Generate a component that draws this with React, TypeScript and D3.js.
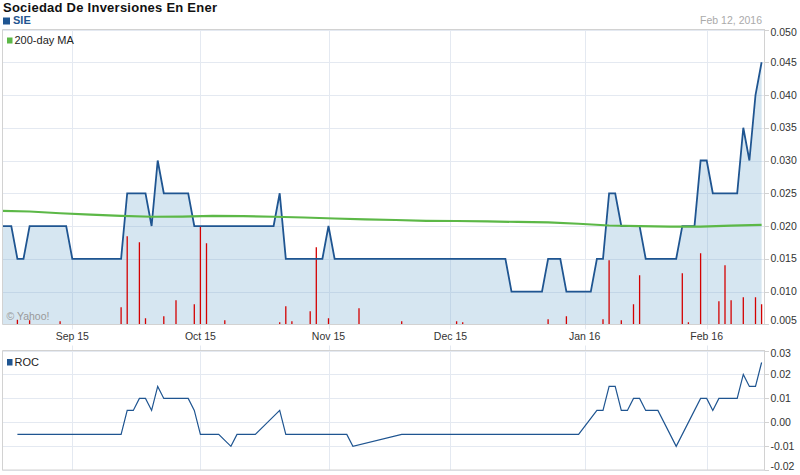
import React from "react";
import * as d3 from "d3";

// ---------- data ----------
const title = "Sociedad De Inversiones En Ener";
const ticker = "SIE";
const dateLabel = "Feb 12, 2016";

// daily closing prices (trading-day index 0..125)
const prices = [
  0.020, 0.020, 0.020, 0.015, 0.015,
  0.020, 0.020, 0.020, 0.020, 0.020,
  0.020, 0.020, 0.015, 0.015, 0.015,
  0.015, 0.015, 0.015, 0.015, 0.015,
  0.015, 0.025, 0.025, 0.025, 0.025,
  0.020, 0.030, 0.025, 0.025, 0.025,
  0.025, 0.025, 0.020, 0.020, 0.020,
  0.020, 0.020, 0.020, 0.020, 0.020,
  0.020, 0.020, 0.020, 0.020, 0.020,
  0.020, 0.025, 0.015, 0.015, 0.015,
  0.015, 0.015, 0.015, 0.015, 0.020,
  0.015, 0.015, 0.015, 0.015, 0.015,
  0.015, 0.015, 0.015, 0.015, 0.015,
  0.015, 0.015, 0.015, 0.015, 0.015,
  0.015, 0.015, 0.015, 0.015, 0.015,
  0.015, 0.015, 0.015, 0.015, 0.015,
  0.015, 0.015, 0.015, 0.015, 0.010,
  0.010, 0.010, 0.010, 0.010, 0.010,
  0.015, 0.015, 0.015, 0.010, 0.010,
  0.010, 0.010, 0.010, 0.015, 0.015,
  0.025, 0.025, 0.020, 0.020, 0.020,
  0.020, 0.015, 0.015, 0.015, 0.015,
  0.015, 0.015, 0.020, 0.020, 0.020,
  0.030, 0.030, 0.025, 0.025, 0.025,
  0.025, 0.025, 0.035, 0.030, 0.040,
  0.045,
];

// 200-day moving average: [day index, value]
const ma200: [number, number][] = [
  [0, 0.02234], [5, 0.02222], [10, 0.02195], [15, 0.02173], [20, 0.02155],
  [25, 0.02142], [30, 0.02145], [35, 0.02155], [40, 0.02152], [45, 0.02142],
  [50, 0.0213], [55, 0.02115], [60, 0.02103], [65, 0.02092], [70, 0.0208],
  [75, 0.02077], [80, 0.0207], [85, 0.02063], [90, 0.02055], [95, 0.02035],
  [100, 0.02008], [105, 0.01998], [110, 0.01992], [115, 0.01992], [120, 0.02005],
  [125, 0.02018],
];

// volume: [day index, shares]
const volume: [number, number][] = [
  [3, 23000], [5, 20000], [10, 15000], [20, 85000], [21, 440000], [23, 410000],
  [24, 30000], [27, 40000], [29, 120000], [32, 100000], [33, 490000], [34, 405000],
  [37, 20000], [46, 10000], [47, 90000], [48, 15000], [51, 65000], [52, 385000],
  [54, 30000], [59, 80000], [66, 15000], [75, 15000], [76, 10000], [90, 25000],
  [93, 40000], [99, 25000], [100, 320000], [102, 20000], [104, 100000], [105, 245000],
  [112, 255000], [113, 10000], [115, 355000], [118, 115000], [119, 295000], [120, 120000],
  [122, 135000], [124, 135000], [125, 100000],
];

// rate of change: [day index, value]
const roc: [number, number][] = [
  [3, -0.005], [20, -0.005], [21, 0.005], [22, 0.005], [23, 0.01], [24, 0.01],
  [25, 0.005], [26, 0.015], [27, 0.01], [31, 0.01], [32, 0.005], [33, -0.005],
  [36, -0.005], [38, -0.01], [39, -0.005], [42, -0.005], [44, 0.0], [46, 0.005],
  [47, -0.005], [57, -0.005], [58, -0.01], [66, -0.005], [95, -0.005], [98, 0.005],
  [99, 0.005], [100, 0.015], [101, 0.015], [102, 0.005], [103, 0.005], [104, 0.01],
  [105, 0.01], [106, 0.005], [108, 0.005], [111, -0.01], [115, 0.01], [116, 0.01],
  [117, 0.005], [118, 0.01], [121, 0.01], [122, 0.02], [123, 0.015], [124, 0.015],
  [125, 0.025],
];

const monthLabels = ["Sep 15", "Oct 15", "Nov 15", "Dec 15", "Jan 16", "Feb 16"];
const monthIndex = [12, 33, 54, 74, 96, 116];
const priceTicks = [0.005, 0.01, 0.015, 0.02, 0.025, 0.03, 0.035, 0.04, 0.045, 0.05];
const rocTicks = [-0.02, -0.01, 0.0, 0.01, 0.02, 0.03];

// ---------- layout ----------
const W = 800, H = 475;
const L = 2.5, R = 765;
const mTop = 29.5, mBot = 324.3;
const rTop = 350.5, rBot = 470.3;
const FONT = "'Liberation Sans', Arial, sans-serif";
const BLUE = "#1f5591";
const GRID = "#e4e9f1";
const BORDER = "#d2d2d2";

const px = (v: number) => Math.round(v) + 0.5;

export default function App() {
  const x = d3.scaleLinear().domain([0, 125]).range([-0.9, -0.9 + 6.1 * 125]);
  const y = d3.scaleLinear().domain([0.005, 0.05]).range([mBot, mTop]);
  const yr = d3.scaleLinear().domain([-0.02, 0.03]).range([rBot, rTop]);
  const yv = d3.scaleLinear().domain([0, 500000]).range([0, 100]);

  const area = d3.area<number>().x((_, i) => x(i)).y0(mBot).y1((d) => y(d));
  const line = d3.line<number>().x((_, i) => x(i)).y((d) => y(d));
  const maLine = d3.line<[number, number]>().x((d) => x(d[0])).y((d) => y(d[1]));
  const rocLine = d3.line<[number, number]>().x((d) => x(d[0])).y((d) => yr(d[1]));

  const clampLabel = (v: number, top: number, bot: number) => Math.max(top + 3, Math.min(bot - 3.5, v));

  return (
    <svg width={W} height={H} style={{ position: "absolute", left: 0, top: 0, background: "#fff" }} fontFamily={FONT}>
      <defs>
        <clipPath id="mainClip"><rect x={L} y={mTop} width={R - L} height={mBot - mTop} /></clipPath>
        <clipPath id="rocClip"><rect x={L} y={rTop} width={R - L} height={rBot - rTop} /></clipPath>
      </defs>

      {/* header */}
      <text x={3} y={12} fontSize={13} fontWeight="bold" fill="#111" textLength={214} lengthAdjust="spacing">{title}</text>
      <rect x={3} y={17.5} width={7} height={7} fill={BLUE} />
      <text x={13} y={24} fontSize={11} fontWeight="bold" fill={BLUE}>{ticker}</text>
      <text x={762} y={23.5} fontSize={10.5} fill="#aaa" textAnchor="end">{dateLabel}</text>

      {/* main panel grid */}
      {priceTicks.map((t) => (
        <line key={"hg" + t} x1={L} x2={R} y1={px(y(t))} y2={px(y(t))} stroke={GRID} />
      ))}
      {monthIndex.map((m) => (
        <line key={"vg" + m} x1={px(x(m))} x2={px(x(m))} y1={mTop} y2={mBot + 5} stroke={GRID} />
      ))}

      <g clipPath="url(#mainClip)">
        <path d={area(prices) || ""} fill="rgb(118,172,208)" fillOpacity={0.3} />
        {volume.map(([i, v]) => (
          <line key={"v" + i} x1={x(i)} x2={x(i)} y1={mBot} y2={mBot - yv(v)} stroke="#d40000" strokeWidth={1.3} />
        ))}
        <path d={line(prices) || ""} fill="none" stroke={BLUE} strokeWidth={1.8} strokeLinejoin="miter" />
        <path d={maLine(ma200) || ""} fill="none" stroke="#5cb847" strokeWidth={2.2} />
      </g>

      {/* main borders */}
      <line x1={L} x2={R} y1={mTop} y2={mTop} stroke={BORDER} />
      <line x1={L} x2={L} y1={mTop} y2={mBot} stroke={BORDER} />
      <line x1={L} x2={R} y1={mBot + 0.2} y2={mBot + 0.2} stroke={BORDER} />
      <line x1={R - 0.5} x2={R - 0.5} y1={mTop} y2={mBot} stroke={BORDER} />
      {priceTicks.map((t) => (
        <g key={"yt" + t}>
          <line x1={R} x2={R + 4} y1={px(y(t))} y2={px(y(t))} stroke={BORDER} />
          <text x={770.5} y={clampLabel(y(t), mTop, mBot)} dy="0.35em" fontSize={10.5} fill="#333">{t.toFixed(3)}</text>
        </g>
      ))}

      {/* legends */}
      <rect x={7} y={37.5} width={5.5} height={6} fill="#5cb847" />
      <text x={14.5} y={44} fontSize={11} fill="#222">200-day MA</text>
      <text x={6.5} y={319.5} fontSize={10.5} fill="#999">© Yahoo!</text>

      {/* x labels */}
      {monthIndex.map((m, k) => (
        <text key={"xl" + m} x={x(m)} y={340} fontSize={10.5} fill="#333" textAnchor="middle">{monthLabels[k]}</text>
      ))}

      {/* ROC panel */}
      {rocTicks.map((t) => (
        <line key={"rg" + t} x1={L} x2={R} y1={px(yr(t))} y2={px(yr(t))} stroke={GRID} />
      ))}
      {monthIndex.map((m) => (
        <line key={"rv" + m} x1={px(x(m))} x2={px(x(m))} y1={rTop - 5} y2={rBot} stroke={GRID} />
      ))}
      <line x1={L} x2={R} y1={rTop} y2={rTop} stroke={BORDER} />
      <line x1={L} x2={R} y1={px(rBot) - 0.5} y2={px(rBot) - 0.5} stroke={BORDER} />
      <line x1={L} x2={L} y1={rTop} y2={rBot} stroke={BORDER} />
      <line x1={R - 0.5} x2={R - 0.5} y1={rTop} y2={rBot} stroke={BORDER} />
      <g clipPath="url(#rocClip)">
        <path d={rocLine(roc) || ""} fill="none" stroke={BLUE} strokeWidth={1.2} />
      </g>
      {rocTicks.map((t) => (
        <g key={"rt" + t}>
          <line x1={R} x2={R + 4} y1={px(yr(t))} y2={px(yr(t))} stroke={BORDER} />
          <text x={770.5} y={clampLabel(yr(t), rTop, rBot)} dy="0.35em" fontSize={10.5} fill="#333">{t.toFixed(2)}</text>
        </g>
      ))}
      <rect x={7} y={359} width={5.5} height={6.5} fill={BLUE} />
      <text x={14.5} y={366} fontSize={11} fill="#222">ROC</text>
    </svg>
  );
}
